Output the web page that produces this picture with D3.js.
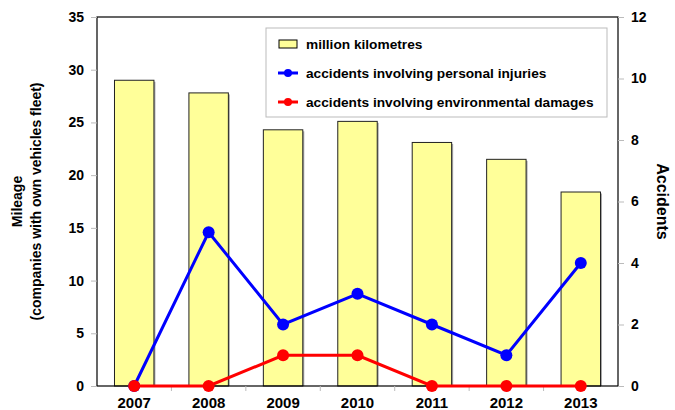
<html>
<head>
<script src="https://cdn.jsdelivr.net/npm/d3@7"></script>
<style>
  body { margin: 0; background: #fff; }
  text { font-family: "Liberation Sans", Arial, sans-serif; font-weight: bold; }
</style>
</head>
<body>
<div id="chart"></div>
<script>
const years = ["2007", "2008", "2009", "2010", "2011", "2012", "2013"];
const mileage = [29.0, 27.8, 24.3, 25.1, 23.1, 21.5, 18.4];
const injuries = [0, 5, 2, 3, 2, 1, 4];
const envDamages = [0, 0, 1, 1, 0, 0, 0];
const leftTicks = [0, 5, 10, 15, 20, 25, 30, 35];
const rightTicks = [0, 2, 4, 6, 8, 10, 12];

const width = 675, height = 410;
const margin = {top: 17, right: 57, bottom: 24, left: 97};

const svg = d3.select("#chart").append("svg")
  .attr("width", width).attr("height", height);

const x = d3.scaleBand().domain(years)
  .range([margin.left, width - margin.right]);
const yL = d3.scaleLinear().domain([0, 35]).range([height - margin.bottom, margin.top]);
const yR = d3.scaleLinear().domain([0, 12]).range([height - margin.bottom, margin.top]);

const barW = x.bandwidth() * 0.53;

// bar shadows
svg.append("g").selectAll("rect").data(years).enter().append("rect")
  .attr("x", d => x(d) + (x.bandwidth() - barW) / 2 + 1.5)
  .attr("y", (d, i) => yL(mileage[i]) + 1.5)
  .attr("width", barW)
  .attr("height", (d, i) => yL(0) - yL(mileage[i]) - 1.5)
  .attr("fill", "#aaa");

svg.append("g").selectAll("rect").data(years).enter().append("rect")
  .attr("x", d => x(d) + (x.bandwidth() - barW) / 2)
  .attr("y", (d, i) => yL(mileage[i]))
  .attr("width", barW)
  .attr("height", (d, i) => yL(0) - yL(mileage[i]))
  .attr("fill", "#ffff99")
  .attr("stroke", "#222").attr("stroke-width", 1);

// frame
svg.append("rect")
  .attr("x", margin.left).attr("y", margin.top)
  .attr("width", width - margin.left - margin.right)
  .attr("height", height - margin.top - margin.bottom)
  .attr("fill", "none").attr("stroke", "#000").attr("stroke-width", 1.2);

// axes
const axL = svg.append("g").attr("transform", `translate(${margin.left},0)`)
  .call(d3.axisLeft(yL).tickValues(leftTicks).tickSize(6).tickPadding(7));
const axR = svg.append("g").attr("transform", `translate(${width - margin.right},0)`)
  .call(d3.axisRight(yR).tickValues(rightTicks).tickSize(6).tickPadding(7));
const axB = svg.append("g").attr("transform", `translate(0,${height - margin.bottom})`)
  .call(d3.axisBottom(x).tickSize(0).tickPadding(11));
// minor ticks between categories on x
svg.append("g").selectAll("line").data(years.slice(1)).enter().append("line")
  .attr("x1", d => x(d)).attr("x2", d => x(d))
  .attr("y1", height - margin.bottom).attr("y2", height - margin.bottom + 5)
  .attr("stroke", "#bbb");

[axL, axR, axB].forEach(a => {
  a.select(".domain").remove();
  a.selectAll(".tick line").attr("stroke", "#bbb");
  a.selectAll("text").attr("font-size", 14).attr("fill", "#000")
    .attr("font-family", "'Liberation Sans', Arial, sans-serif").attr("font-weight", "bold");
});
axB.selectAll("text").attr("font-size", 15);

// lines
const cx = d => x(d) + x.bandwidth() / 2;
function series(vals, color) {
  const line = d3.line().x((d, i) => cx(years[i])).y(d => yR(d));
  svg.append("path").datum(vals).attr("d", line)
    .attr("fill", "none").attr("stroke", color).attr("stroke-width", 3);
  svg.append("g").selectAll("circle").data(vals).enter().append("circle")
    .attr("cx", (d, i) => cx(years[i])).attr("cy", d => yR(d))
    .attr("r", 6).attr("fill", color);
}
series(injuries, "#0000ff");
series(envDamages, "#ff0000");

// axis titles
svg.append("text")
  .attr("transform", `translate(22,${(margin.top + height - margin.bottom) / 2}) rotate(-90)`)
  .attr("text-anchor", "middle").attr("font-size", 14).text("Mileage");
svg.append("text")
  .attr("transform", `translate(41,${(margin.top + height - margin.bottom) / 2}) rotate(-90)`)
  .attr("text-anchor", "middle").attr("font-size", 14).text("(companies with own vehicles fleet)");
svg.append("text")
  .attr("transform", `translate(657,${(margin.top + height - margin.bottom) / 2}) rotate(90)`)
  .attr("text-anchor", "middle").attr("font-size", 16).text("Accidents");

// legend
const lg = svg.append("g").attr("transform", "translate(266,28)");
lg.append("rect").attr("width", 341).attr("height", 89)
  .attr("fill", "#fff").attr("stroke", "#bbb");
const legendItems = [
  {label: "million kilometres", type: "bar"},
  {label: "accidents involving personal injuries", type: "line", color: "#0000ff"},
  {label: "accidents involving environmental damages", type: "line", color: "#ff0000"}
];
legendItems.forEach((it, i) => {
  const yy = 16 + i * 29;
  if (it.type === "bar") {
    lg.append("rect").attr("x", 13).attr("y", yy - 4).attr("width", 18).attr("height", 8)
      .attr("fill", "#ffff99").attr("stroke", "#000");
  } else {
    lg.append("line").attr("x1", 12).attr("x2", 32).attr("y1", yy).attr("y2", yy)
      .attr("stroke", it.color).attr("stroke-width", 3);
    lg.append("circle").attr("cx", 22).attr("cy", yy).attr("r", 4).attr("fill", it.color);
  }
  lg.append("text").attr("x", 40).attr("y", yy + 5).attr("font-size", 13.7).text(it.label);
});
</script>
</body>
</html>
